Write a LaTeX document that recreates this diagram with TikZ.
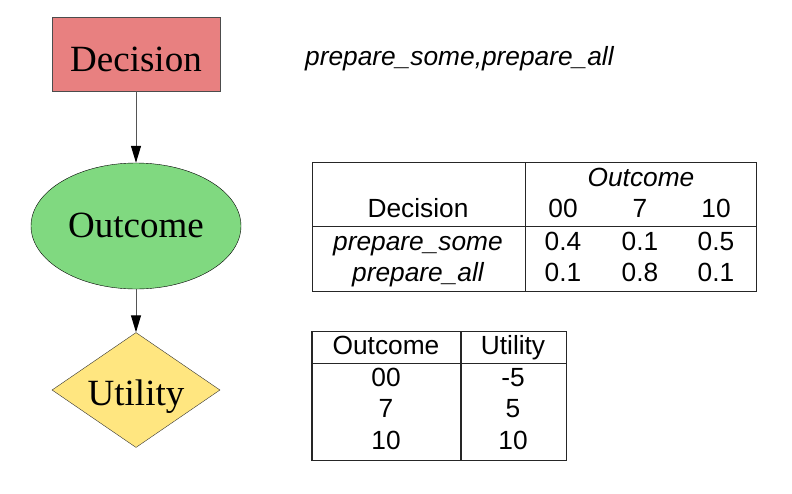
\documentclass[tikz,border=0pt]{standalone}
\usepackage{fontspec}
\setmainfont{Liberation Serif}
\setsansfont{Liberation Sans}
\usetikzlibrary{shapes.geometric,arrows.meta}
\definecolor{decfill}{HTML}{E88080}
\definecolor{outfill}{HTML}{80D980}
\definecolor{utilfill}{HTML}{FFE680}
\definecolor{edgegray}{HTML}{555555}
\begin{document}
\begin{tikzpicture}[x=1pt,y=-1pt,
  nodefont/.style={font=\fontsize{37}{40}\selectfont,inner sep=0pt,text depth=0pt},
  tabfont/.style={font=\sffamily\fontsize{26.3}{28}\selectfont},
  itfont/.style={font=\sffamily\itshape\fontsize{26.3}{28}\selectfont},
  tabline/.style={draw=black!85,line width=1.1pt},
  edge/.style={draw=edgegray,line width=1pt,-{Triangle[length=17pt,width=10pt,black]}},
  cell/.style={tabfont,inner sep=0pt,anchor=base},
  itcell/.style={itfont,inner sep=0pt,anchor=base}]
\useasboundingbox (0,0) rectangle (792,493);
% nodes
\node[nodefont,draw=black!70,fill=decfill,rectangle,minimum width=168pt,minimum height=74pt,text height=34pt] (dec) at (136,54) {Decision};
\node[nodefont,draw=black,fill=outfill,ellipse,minimum width=210pt,minimum height=126pt,text height=22.6pt] (out) at (136,226) {Outcome};
\node[nodefont,draw=black!80,fill=utilfill,diamond,minimum width=168pt,minimum height=115pt,aspect=1.46,text height=30pt] (util) at (136,390) {Utility};
\draw[edge] (dec) -- (out);
\draw[edge] (out) -- (util);
% domain text
\node[itfont,inner sep=0pt,anchor=base west] (dom) at (305,65.7) {prepare\_some,prepare\_all};
% table 1
\node[tabline,rectangle,minimum width=444pt,minimum height=129pt,inner sep=0pt] (t1) at (534.5,227) {};
\coordinate (t1vt) at (525.5,162.5);
\coordinate (t1vb) at (525.5,291.5);
\coordinate (t1hl) at (312.5,226.5);
\coordinate (t1hr) at (756.5,226.5);
\draw[tabline] (t1vt) -- (t1vb);
\draw[tabline] (t1hl) -- (t1hr);
\node[itcell] (h1) at (641,186.5) {Outcome};
\node[cell] (hd) at (418,217.5) {Decision};
\node[cell] (h00) at (563,217.5) {00};
\node[cell] (h7) at (640,217.5) {7};
\node[cell] (h10) at (716,217.5) {10};
\node[itcell] (r1) at (418,250.5) {prepare\_some};
\node[cell] (r1a) at (563,250.5) {0.4};
\node[cell] (r1b) at (640,250.5) {0.1};
\node[cell] (r1c) at (716,250.5) {0.5};
\node[itcell] (r2) at (418,281) {prepare\_all};
\node[cell] (r2a) at (563,281) {0.1};
\node[cell] (r2b) at (640,281) {0.8};
\node[cell] (r2c) at (716,281) {0.1};
% table 2
\node[tabline,rectangle,minimum width=254.5pt,minimum height=128.5pt,inner sep=0pt] (t2) at (439.25,396) {};
\coordinate (t2vt) at (461,331.75);
\coordinate (t2vb) at (461,460.25);
\coordinate (t2hl) at (312,363.5);
\coordinate (t2hr) at (566.5,363.5);
\draw[tabline] (t2vt) -- (t2vb);
\draw[tabline] (t2hl) -- (t2hr);
\node[cell] (u1) at (386,354.3) {Outcome};
\node[cell] (u2) at (513,354.3) {Utility};
\node[cell] (u3) at (386,386) {00};
\node[cell] (u4) at (513,386) {-5};
\node[cell] (u5) at (386,417.7) {7};
\node[cell] (u6) at (513,417.7) {5};
\node[cell] (u7) at (386,449.3) {10};
\node[cell] (u8) at (513,449.3) {10};
\end{tikzpicture}
\end{document}
